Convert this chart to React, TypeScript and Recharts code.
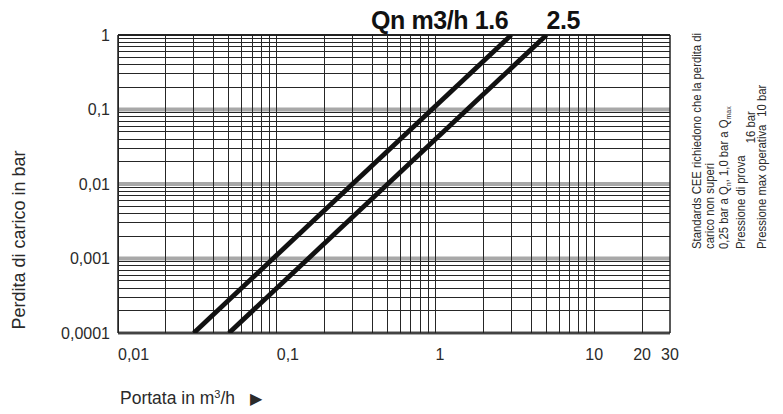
import React from "react";
import { LineChart, Line, XAxis, YAxis, ReferenceLine, ReferenceDot } from "recharts";

// portata (m3/h) vs perdita di carico (bar), log-log
const qn16Flow = [0.03, 3];
const qn16Loss = [0.0001, 1];
const qn25Flow = [0.05, 5];
const qn25Loss = [0.0001, 1];

const xTicks = [0.01, 0.1, 1, 10, 20, 30];
const xTickLabels = ["0,01", "0,1", "1", "10", "20", "30"];
const yTicks = [0.0001, 0.001, 0.01, 0.1, 1];
const yTickLabels = ["0,0001", "0,001", "0,01", "0,1", "1"];

const mantissas = [1, 2, 3, 4, 5, 6, 7, 8, 9];
const xDecades = [0.01, 0.1, 1];
const xExtraGrid = [10, 20];
const yDecades = [0.0001, 0.001, 0.01, 0.1];

const xGrid = [...xDecades.flatMap((d) => mantissas.map((m) => +(m * d).toPrecision(3))), ...xExtraGrid];
const yGrid = yDecades.flatMap((d) => mantissas.slice(1).map((m) => +(m * d).toPrecision(3)));

const qn16 = qn16Flow.map((q, i) => ({ q, p: qn16Loss[i] }));
const qn25 = qn25Flow.map((q, i) => ({ q, p: qn25Loss[i] }));

const FONT = "'Liberation Sans', Arial, sans-serif";
const INK = "#2a2a2a";
const GRID = "#262626";

const XTick = (props: any) => {
    const { x, y, payload } = props;
    const i = xTicks.indexOf(payload.value);
    const anchor = payload.value < 10 ? "start" : "middle";
    return (
        <text x={x} y={y} dy={19} textAnchor={anchor} fontSize={16} fontFamily={FONT} fill={INK}>
            {xTickLabels[i]}
        </text>
    );
};

const qnLabel = (text: string, anchor: "start" | "end", dx: number) => (p: any) => {
    const vb = p.viewBox || {};
    return (
        <text x={vb.x + dx} y={vb.y - 6} textAnchor={anchor} fontSize={25} fontWeight="bold"
              fontFamily={FONT} fill="#111" letterSpacing={-0.4}>
            {text}
        </text>
    );
};

// rotated note line, condensed along the text direction
const note = (x: number, children: React.ReactNode) => (
    <text transform={`translate(${x},249) rotate(-90) scale(0.87,1)`}>{children}</text>
);

export default function App() {
    return (
        <div style={{ position: "absolute", left: 0, top: 0, width: 783, height: 414, background: "#fff" }}>
            <LineChart width={783} height={414} data={qn16}
                       margin={{ top: 35, right: 113, left: 0, bottom: 51 }}>
                <XAxis dataKey="q" type="number" scale="log" domain={[0.01, 30]} allowDataOverflow
                       ticks={xTicks} interval={0} axisLine={false} tickLine={false} height={30}
                       tick={<XTick />} />
                <YAxis type="number" scale="log" domain={[0.0001, 1]} allowDataOverflow
                       ticks={yTicks} interval={0} axisLine={false} tickLine={false} width={118}
                       tickSize={6} tickMargin={2}
                       tickFormatter={(v) => yTickLabels[yTicks.indexOf(v)]}
                       tick={{ fontSize: 16, fontFamily: FONT, fill: INK }} />

                {yDecades.map((v) => (
                    <ReferenceLine key={"yb" + v} y={v} stroke="#a8a8a8" strokeWidth={4} />
                ))}
                {yGrid.map((v) => (
                    <ReferenceLine key={"y" + v} y={v} stroke={GRID} strokeWidth={1} shapeRendering="crispEdges" />
                ))}
                {xGrid.map((v) => (
                    <ReferenceLine key={"x" + v} x={v} stroke={GRID} strokeWidth={1} shapeRendering="crispEdges" />
                ))}
                <ReferenceLine y={1} stroke="#222" strokeWidth={2} />
                <ReferenceLine y={0.0001} stroke="#222" strokeWidth={1.5} />
                <ReferenceLine x={0.01} stroke="#222" strokeWidth={1.5} />
                <ReferenceLine x={30} stroke="#222" strokeWidth={1.5} />

                <Line data={qn16} dataKey="p" stroke="#111" strokeWidth={4.8} dot={false}
                      isAnimationActive={false} />
                <Line data={qn25} dataKey="p" stroke="#111" strokeWidth={4.8} dot={false}
                      isAnimationActive={false} />

                <ReferenceDot x={qn16Flow[1]} y={qn16Loss[1]} r={0} stroke="none" ifOverflow="visible"
                              label={{ content: qnLabel("Qn m3/h 1.6", "end", -3) }} />
                <ReferenceDot x={qn25Flow[1]} y={qn25Loss[1]} r={0} stroke="none" ifOverflow="visible"
                              label={{ content: qnLabel("2.5", "start", 0) }} />
            </LineChart>

            <svg width={783} height={414} style={{ position: "absolute", left: 0, top: 0, pointerEvents: "none" }}>
                <text transform="translate(25,240) rotate(-90)" textAnchor="middle" fontSize={18}
                      fontFamily={FONT} fill={INK}>
                    Perdita di carico in bar
                </text>
                <text x={120} y={404} fontSize={17.5} fontFamily={FONT} fill={INK}>
                    Portata in m<tspan dy={-6} fontSize={11}>3</tspan><tspan dy={6}>/h</tspan>
                    <tspan dx={15} fontSize={16}>▶</tspan>
                </text>
                <g fontFamily={FONT} fontSize={13} fill={INK}>
                    {note(701, "Standards CEE richiedono che la perdita di")}
                    {note(714, "carico non superi")}
                    {note(728, <>
                        0,25 bar a Q<tspan dy={3} fontSize={8}>n</tspan>
                        <tspan dy={-3}>, 1,0 bar a Q</tspan>
                        <tspan dy={3} fontSize={8}>max</tspan>
                    </>)}
                    {note(745, <>Pressione di prova<tspan dx={14} dy={10}>16 bar</tspan></>)}
                    {note(766, <>Pressione max operativa<tspan dx={9}>10 bar</tspan></>)}
                </g>
            </svg>
        </div>
    );
}
